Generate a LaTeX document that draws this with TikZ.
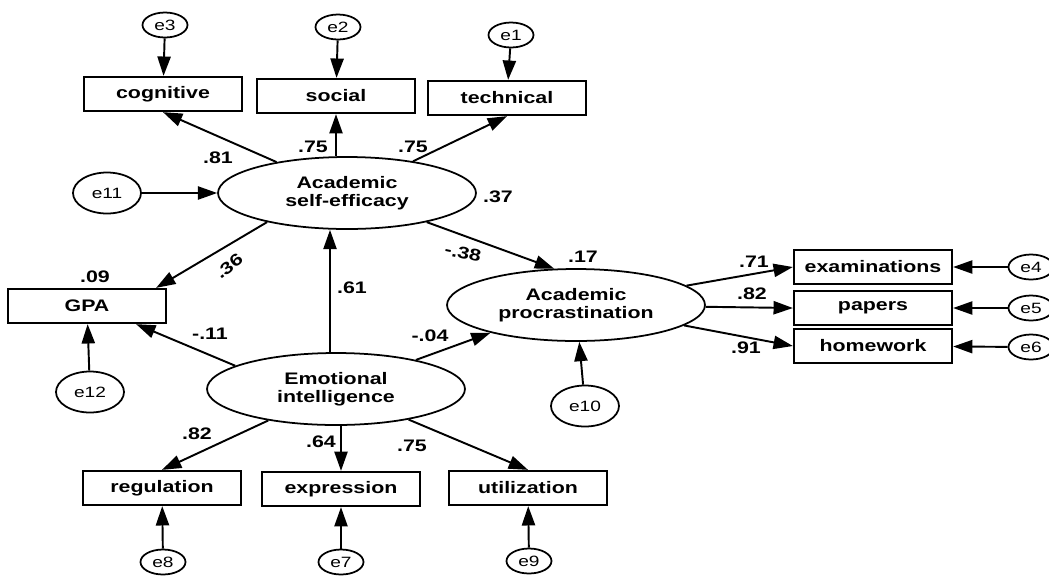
\documentclass[tikz,border=0pt]{standalone}
\usepackage{fontspec}
\setmainfont{Liberation Sans}[FakeStretch=1.28]
\usetikzlibrary{arrows.meta, calc, positioning, shapes.geometric}

\begin{document}
\begin{tikzpicture}[
    x=0.02cm, y=-0.02cm,
    font=\fontsize{9.5}{10}\selectfont\bfseries,
    path/.style={-{Triangle[length=11pt, width=7.5pt]}, line width=1.1pt},
    obsbox/.style={draw, line width=1.3pt, minimum width=3.16cm, minimum height=0.68cm, inner sep=0pt},
    latent/.style={draw, ellipse, line width=1pt, minimum width=5.16cm, minimum height=1.44cm, inner sep=0pt, align=center},
    err/.style={draw, ellipse, line width=1pt, minimum width=0.9cm, minimum height=0.5cm, inner sep=0pt, font=\fontsize{8.5}{9}\selectfont},
    bigerr/.style={err, minimum width=1.36cm, minimum height=0.82cm},
    coef/.style={inner sep=1pt}
]
\useasboundingbox (0,0) rectangle (1049,576);
%
\node[latent] (ase) at (347,193) {Academic\\self-efficacy};
\node[latent] (ap) at (576,305) {Academic\\procrastination};
\node[latent] (ei) at (336,389) {Emotional\\intelligence};

%
\node[obsbox] (cog) at (163,94) {cognitive};
\node[obsbox] (soc) at (336,96) {social};
\node[obsbox] (tech) at (507,98) {technical};
\node[obsbox] (gpa) at (87,306) {GPA};
\node[obsbox] (exam) at (873,267) {examinations};
\node[obsbox] (pap) at (873,308) {papers};
\node[obsbox] (hw) at (873,346) {homework};
\node[obsbox] (reg) at (162,488) {regulation};
\node[obsbox] (expr) at (341,489) {expression};
\node[obsbox] (util) at (528,488) {utilization};

%
\node[err] (e3) at (165,25) {e3};
\node[err] (e2) at (338,27) {e2};
\node[err] (e1) at (511,35) {e1};
\node[bigerr] (e11) at (107,193) {e11};
\node[bigerr] (e12) at (90,392) {e12};
\node[bigerr] (e10) at (585,406) {e10};
\node[err] (e4) at (1031,267) {e4};
\node[err] (e5) at (1031,308) {e5};
\node[err] (e6) at (1031,347) {e6};
\node[err] (e8) at (163,562) {e8};
\node[err] (e7) at (341,562) {e7};
\node[err] (e9) at (529,561) {e9};

%
\coordinate (gpatop) at ($(gpa.north east)+(-11,0)$);
\coordinate (gpabot) at ($(gpa.south east)+(-31,0)$);
\coordinate (eitop) at ($(ei.north)+(-6,0)$);
\draw[path] (ase) -- (cog.south);
\draw[path] (ase.north -| soc.south) -- (soc.south);
\draw[path] (ase) -- (tech.south);
\draw[path] (ase.200) -- (gpatop);
\draw[path] (ase) -- (ap.121);
\draw[path] (eitop) -- (eitop |- ase.south);
\draw[path] (ei.167) -- (gpabot);
\draw[path] (ei) -- (ap.198);
\draw[path] (ei) -- (reg.north);
\draw[path] (ei.south -| expr.north) -- (expr.north);
\draw[path] (ei) -- (util.north);
\draw[path] (ap) -- (exam.west);
\draw[path] (ap) -- (pap.west);
\draw[path] (ap) -- (hw.west);

%
\draw[path] (e3) -- (cog);
\draw[path] (e2) -- (soc);
\draw[path] (e1) -- (tech);
\draw[path] (e11) -- (ase);
\draw[path] (e12) -- (gpa);
\draw[path] (e10) -- (ap);
\draw[path] (e4) -- (exam);
\draw[path] (e5) -- (pap);
\draw[path] (e6) -- (hw);
\draw[path] (e8) -- (reg);
\draw[path] (e7) -- (expr);
\draw[path] (e9) -- (util);

%
\node[coef] (c81) at (218,158) {.81};
\node[coef] (c75s) at (313,147) {.75};
\node[coef] (c75t) at (413,147) {.75};
\node[coef] (c37) at (498,197) {.37};
\node[coef] (c09) at (95,277) {.09};
\node[coef, rotate=38] (c36) at (229,266) {.36};
\node[coef, rotate=-12] (c38) at (463,253) {-.38};
\node[coef] (c17) at (583,257) {.17};
\node[coef] (c61) at (352,288) {.61};
\node[coef] (c11) at (210,334) {-.11};
\node[coef] (c04) at (430,336) {-.04};
\node[coef] (c71) at (754,262) {.71};
\node[coef] (c82p) at (752,294) {.82};
\node[coef] (c91) at (746,348) {.91};
\node[coef] (c82r) at (197,434) {.82};
\node[coef] (c64) at (321,442) {.64};
\node[coef] (c75u) at (412,446) {.75};
\end{tikzpicture}
\end{document}
